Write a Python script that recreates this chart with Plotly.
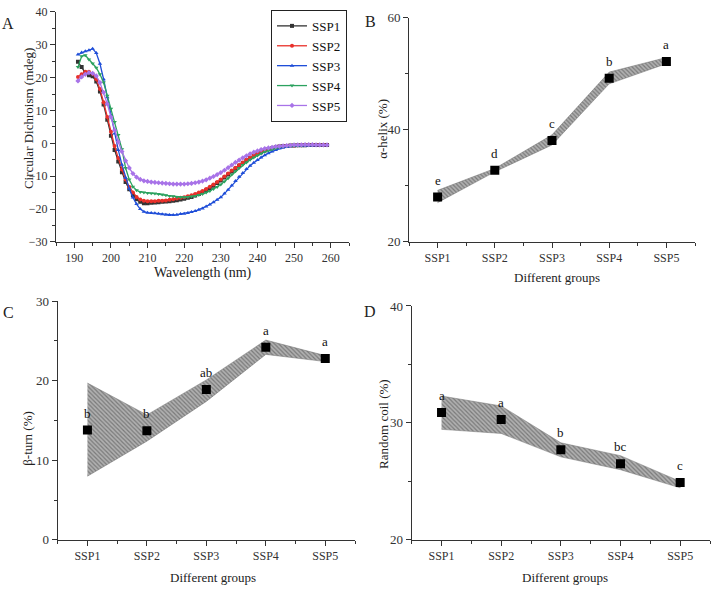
import plotly.graph_objects as go

# ---------------- Data ----------------
wavelength = list(range(191, 260))

ssp1 = [24.8, 23.2, 21.5, 20.7, 20.4, 18.8, 15.8, 11.8, 7.2, 2.3,
        -2.0, -5.5, -8.8, -11.8, -14.0, -15.8, -17.0, -17.8, -18.2, -18.2,
        -18.1, -18.0, -17.9, -17.8, -17.7, -17.6, -17.5, -17.3, -17.1, -16.9,
        -16.6, -16.3, -15.9, -15.4, -14.9, -14.3, -13.6, -12.9, -12.1, -11.3,
        -10.4, -9.5, -8.6, -7.7, -6.8, -6.0, -5.2, -4.5, -3.8, -3.2,
        -2.7, -2.2, -1.8, -1.5, -1.2, -1.0, -0.9, -0.8, -0.7, -0.65,
        -0.6, -0.6, -0.55, -0.5, -0.5, -0.5, -0.5, -0.5, -0.5]

ssp2 = [20.2, 21.0, 21.8, 21.8, 21.2, 19.5, 16.5, 12.5, 8.0, 3.5,
        -0.8, -4.5, -8.0, -11.0, -13.3, -15.0, -16.3, -17.1, -17.5, -17.6,
        -17.6, -17.6, -17.5, -17.5, -17.4, -17.2, -17.0, -16.8, -16.6, -16.4,
        -16.1, -15.8, -15.4, -15.0, -14.5, -13.9, -13.2, -12.5, -11.8, -11.0,
        -10.1, -9.2, -8.3, -7.4, -6.6, -5.8, -5.0, -4.3, -3.7, -3.1,
        -2.6, -2.2, -1.8, -1.5, -1.2, -1.0, -0.9, -0.8, -0.7, -0.65,
        -0.6, -0.55, -0.5, -0.5, -0.5, -0.5, -0.5, -0.5, -0.5]

ssp3 = [27.0, 27.6, 28.0, 28.3, 28.8, 27.5, 24.2, 19.5, 14.0, 8.5,
        3.0, -2.0, -6.5, -10.5, -13.8, -16.5, -18.5, -20.0, -20.8, -21.1,
        -21.2, -21.3, -21.4, -21.6, -21.7, -21.8, -21.8, -21.7, -21.5, -21.4,
        -21.2, -20.9, -20.6, -20.2, -19.8, -19.2, -18.6, -17.9, -17.2, -16.4,
        -15.3, -14.1, -12.8, -11.5, -10.2, -9.0, -7.8, -6.8, -5.9, -5.1,
        -4.3, -3.6, -3.0, -2.5, -2.0, -1.6, -1.3, -1.1, -0.9, -0.8,
        -0.75, -0.7, -0.7, -0.65, -0.65, -0.6, -0.6, -0.6, -0.6]

ssp4 = [23.2, 26.5, 26.8, 25.5, 24.3, 23.0, 21.0, 18.5, 14.5, 10.5,
        6.5, 2.5, -1.8, -7.5, -11.0, -13.2, -14.3, -14.8, -15.0, -15.1,
        -15.2, -15.3, -15.4, -15.6, -15.8, -16.0, -16.1, -16.3, -16.4, -16.4,
        -16.3, -16.2, -16.0, -15.7, -15.4, -15.0, -14.5, -13.9, -13.3, -12.5,
        -11.6, -10.6, -9.5, -8.5, -7.5, -6.6, -5.8, -5.0, -4.3, -3.7,
        -3.1, -2.6, -2.2, -1.8, -1.5, -1.2, -1.0, -0.9, -0.8, -0.7,
        -0.7, -0.65, -0.6, -0.6, -0.6, -0.6, -0.6, -0.6, -0.6]

ssp5 = [19.0, 20.2, 21.0, 21.5, 21.3, 20.5, 18.5, 15.5, 12.0, 8.0,
        4.0, 0.5, -2.5, -5.3, -7.5, -9.2, -10.3, -11.0, -11.4, -11.6,
        -11.8, -11.9, -12.0, -12.1, -12.2, -12.3, -12.4, -12.4, -12.4, -12.4,
        -12.3, -12.2, -12.0, -11.8, -11.5, -11.1, -10.6, -10.1, -9.5, -8.9,
        -8.2, -7.4, -6.6, -5.8, -5.1, -4.4, -3.8, -3.2, -2.7, -2.3,
        -1.9, -1.6, -1.4, -1.2, -1.0, -0.9, -0.8, -0.7, -0.6, -0.5,
        -0.5, -0.45, -0.4, -0.4, -0.4, -0.45, -0.5, -0.5, -0.5]

groups = ["SSP1", "SSP2", "SSP3", "SSP4", "SSP5"]

helix_mean = [28.0, 32.8, 38.1, 49.2, 52.2]
helix_upper = [29.2, 33.1, 39.1, 50.3, 52.9]
helix_lower = [27.0, 32.5, 37.3, 48.2, 51.8]
helix_letters = ["e", "d", "c", "b", "a"]

turn_mean = [13.8, 13.7, 18.9, 24.2, 22.8]
turn_upper = [19.7, 15.7, 20.1, 25.1, 23.15]
turn_lower = [8.0, 12.4, 17.4, 23.3, 22.4]
turn_letters = ["b", "b", "ab", "a", "a"]

coil_mean = [30.9, 30.3, 27.7, 26.5, 24.9]
coil_upper = [32.3, 31.45, 28.3, 27.2, 25.0]
coil_lower = [29.45, 29.1, 27.1, 26.0, 24.45]
coil_letters = ["a", "a", "b", "bc", "c"]

# ---------------- Styling ----------------
FONT = "Liberation Serif, Times New Roman, serif"
AX = "#333333"
cd_series = [("SSP1", ssp1, "#333333", "square"),
             ("SSP2", ssp2, "#e8302a", "circle"),
             ("SSP3", ssp3, "#1f4ed8", "triangle-up"),
             ("SSP4", ssp4, "#2ca25f", "triangle-down"),
             ("SSP5", ssp5, "#a873e8", "diamond")]

fig = go.Figure()

for name, vals, col, sym in cd_series:
    fig.add_trace(go.Scatter(
        x=wavelength, y=vals, mode="lines+markers", name=name,
        line=dict(color=col, width=1.3),
        marker=dict(symbol=sym, size=4, color=col),
        xaxis="x", yaxis="y", showlegend=True))

def band_panel(idx, mean, upper, lower, letters):
    xs = list(range(len(groups)))
    xa = "x" + str(idx)
    ya = "y" + str(idx)
    fig.add_trace(go.Scatter(
        x=xs + xs[::-1], y=upper + lower[::-1], mode="lines",
        fill="toself", fillcolor="rgba(150,150,150,1)",
        fillpattern=dict(shape="\\", bgcolor="#b0b0b0", fgcolor="#444444",
                         size=3, solidity=0.4),
        line=dict(color="rgba(110,110,110,0.8)", width=0.6),
        xaxis=xa, yaxis=ya, showlegend=False, hoverinfo="skip"))
    fig.add_trace(go.Scatter(
        x=xs, y=mean, mode="markers",
        marker=dict(symbol="square", size=9, color="black"),
        xaxis=xa, yaxis=ya, showlegend=False))
    for i, (v, t) in enumerate(zip(mean, letters)):
        fig.add_annotation(x=i, y=v, xref=xa, yref=ya, text=t,
                           showarrow=False, yshift=17,
                           font=dict(family=FONT, size=13, color="#111"))

band_panel(2, helix_mean, helix_upper, helix_lower, helix_letters)
band_panel(3, turn_mean, turn_upper, turn_lower, turn_letters)
band_panel(4, coil_mean, coil_upper, coil_lower, coil_letters)

W, H = 712, 594
def px(x0, x1):
    return [x0 / W, x1 / W]
def py(top, bottom):
    return [1 - bottom / H, 1 - top / H]

base = dict(showline=True, linecolor=AX, linewidth=1, ticks="outside",
            ticklen=5, tickcolor=AX, tickwidth=1, showgrid=False,
            zeroline=False, mirror=False,
            tickfont=dict(family=FONT, size=12, color=AX))

cat_x = dict(base, tickmode="array", tickvals=list(range(5)), ticktext=groups,
             range=[-0.5, 4.5],
             minor=dict(tickmode="linear", tick0=0.5, dtick=1, ticks="outside",
                        ticklen=3, tickcolor=AX))

fig.update_layout(
    width=W, height=H, margin=dict(l=0, r=0, t=0, b=0),
    plot_bgcolor="white", paper_bgcolor="white",
    font=dict(family=FONT, color=AX),
    xaxis=dict(base, domain=px(56, 349), anchor="y", range=[185, 265],
               tickmode="linear", tick0=190, dtick=10,
               minor=dict(dtick=5, ticks="outside", ticklen=3, tickcolor=AX)),
    yaxis=dict(base, domain=py(5, 241), anchor="x", range=[-30, 40],
               tickmode="linear", tick0=-30, dtick=10,
               minor=dict(dtick=5, ticks="outside", ticklen=3, tickcolor=AX)),
    xaxis2=dict(cat_x, domain=px(409, 695), anchor="y2"),
    yaxis2=dict(base, domain=py(11, 241), anchor="x2", range=[20, 60],
                tickmode="linear", tick0=20, dtick=20,
                tickfont=dict(family=FONT, size=13, color=AX),
                minor=dict(dtick=10, ticks="outside", ticklen=3, tickcolor=AX)),
    xaxis3=dict(cat_x, domain=px(57.7, 355), anchor="y3"),
    yaxis3=dict(base, domain=py(301.7, 546.7), anchor="x3", range=[0, 30],
                tickmode="linear", tick0=0, dtick=10,
                tickfont=dict(family=FONT, size=13, color=AX),
                minor=dict(dtick=5, ticks="outside", ticklen=3, tickcolor=AX)),
    xaxis4=dict(cat_x, domain=px(411.7, 710), anchor="y4"),
    yaxis4=dict(base, domain=py(306.7, 546.7), anchor="x4", range=[20, 40],
                tickmode="linear", tick0=20, dtick=10,
                tickfont=dict(family=FONT, size=13, color=AX),
                minor=dict(dtick=5, ticks="outside", ticklen=3, tickcolor=AX)),
    legend=dict(x=271 / W, y=1 - 3 / H, xanchor="left", yanchor="top",
                bordercolor="#222", borderwidth=1, bgcolor="white",
                font=dict(family=FONT, size=13, color="#111"),
                itemwidth=30, tracegroupgap=0),
)

def ann(text, xp, yp, size=13, angle=0):
    fig.add_annotation(text=text, x=xp / W, y=1 - yp / H, xref="paper",
                       yref="paper", showarrow=False, textangle=angle,
                       xanchor="center", yanchor="middle",
                       font=dict(family=FONT, size=size, color="#222"))

# axis titles
ann("Wavelength (nm)", 203, 273, 14)
ann("Circular Dichroism (mdeg)", 28, 114, 13, -90)
ann("Different groups", 556.7, 278, 13)
ann("α-helix (%)", 383, 125, 13, -90)
ann("Different groups", 213, 585, 13)
ann("β-turn (%)", 28, 443, 13, -90)
ann("Different groups", 565, 585, 13)
ann("Random coil (%)", 382.7, 428, 13, -90)

# panel letters
ann("A", 8, 17, 16)
ann("B", 370, 15, 16)
ann("C", 8, 313, 16)
ann("D", 370, 312, 16)

fig.write_html("out.html",
               config={"displayModeBar": False},
               post_script="document.body.style.margin='0';"
                           "document.body.style.overflow='hidden';")
